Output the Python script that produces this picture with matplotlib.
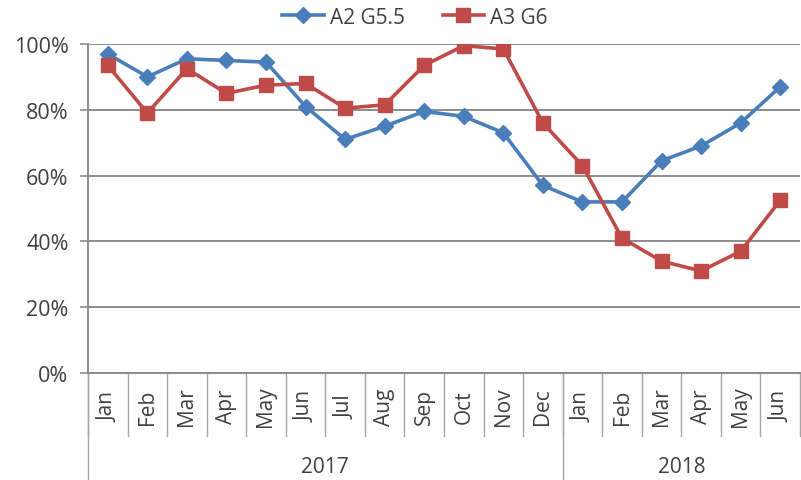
import matplotlib
matplotlib.use('Agg')
import matplotlib.pyplot as plt
import matplotlib.transforms as mtransforms

plt.rcParams.update({
    'font.family': ['Open Sans', 'DejaVu Sans'],
    'font.size': 15,
    'text.color': '#404040',
    'xtick.color': '#404040',
    'ytick.color': '#404040',
})

months = ['Jan', 'Feb', 'Mar', 'Apr', 'May', 'Jun', 'Jul', 'Aug', 'Sep', 'Oct', 'Nov', 'Dec',
          'Jan', 'Feb', 'Mar', 'Apr', 'May', 'Jun']
years = ['2017', '2018']
months_per_year = [12, 6]

a2_g55 = [97, 90, 95.5, 95, 94.5, 81, 71, 75, 79.5, 78, 73, 57,
          52, 52, 64.5, 69, 76, 87]
a3_g6 = [93.5, 79, 92.5, 85, 87.5, 88, 80.5, 81.5, 93.5, 99.5, 98.5, 76,
         63, 41, 34, 31, 37, 52.5]

BLUE = '#4A7EBB'
RED = '#BE4B48'
GRID = '#8C8C8C'

fig = plt.figure(figsize=(8.01, 4.81), dpi=100)
ax = fig.add_axes([88 / 801, 1 - 374 / 481, 712 / 801, 329 / 481])

x = list(range(len(months)))
ax.plot(x, a2_g55, color=BLUE, lw=2.6, marker='D', ms=8, label='A2 G5.5', zorder=3)
ax.plot(x, a3_g6, color=RED, lw=2.6, marker='s', ms=10, label='A3 G6', zorder=3)

ax.set_xlim(-0.5, len(months) - 0.5)
ax.set_ylim(0, 100)
ax.set_yticks([0, 20, 40, 60, 80, 100])
ax.set_yticklabels([f'{v}%' for v in [0, 20, 40, 60, 80, 100]], fontsize=15.5)
ax.yaxis.grid(True, color=GRID, lw=1.4)
ax.set_axisbelow(True)
ax.tick_params(axis='y', length=6, width=1.2, color=GRID, pad=8)
ax.set_xticks([])
for s in ['top', 'right']:
    ax.spines[s].set_visible(False)
ax.spines['left'].set_color(GRID)
ax.spines['left'].set_linewidth(1.4)
ax.spines['bottom'].set_color(GRID)
ax.spines['bottom'].set_linewidth(1.4)

# category axis: month boxes and year groups
trans = mtransforms.blended_transform_factory(ax.transData, ax.transAxes)
for i in range(len(months) + 1):
    ax.plot([i - 0.5, i - 0.5], [0, -0.19], color='#A6A6A6', lw=1.0,
            transform=trans, clip_on=False)
for i, m in enumerate(months):
    ax.text(i, -0.10, m, rotation=90, ha='center', va='center',
            transform=trans, fontsize=15)

start = 0
for yr, n in zip(years, months_per_year):
    ax.plot([start - 0.5, start - 0.5], [0, -0.34], color='#A6A6A6', lw=1.0,
            transform=trans, clip_on=False)
    ax.text(start + (n - 1) / 2, -0.285, yr, ha='center', va='center',
            transform=trans, fontsize=15)
    start += n

fig.legend(loc='center', bbox_to_anchor=(415 / 801, 1 - 18 / 481), ncol=2,
           frameon=False, handlelength=2.0, columnspacing=1.8, handletextpad=0.3,
           fontsize=15)

fig.savefig('out.png', dpi=100, facecolor='white')
